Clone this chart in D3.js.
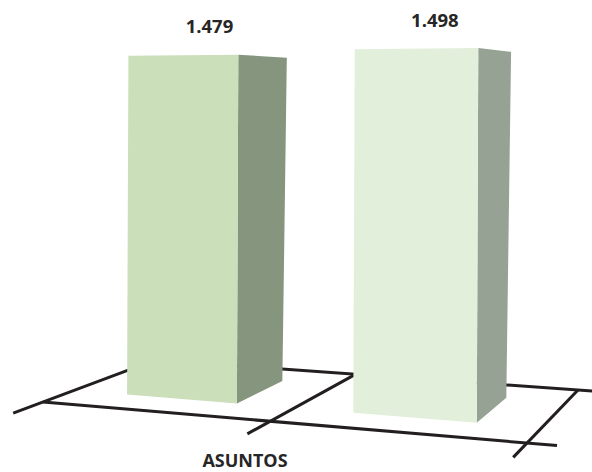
<!DOCTYPE html>
<html><head><meta charset="utf-8">
<script src="https://cdn.jsdelivr.net/npm/d3@7/dist/d3.min.js"></script>
<style>html,body{margin:0;padding:0;background:#fff;}svg{display:block;}</style>
</head><body>
<svg id="chart" width="592" height="472"></svg>
<script>
// ---- data ----
const categories = ["Serie 1", "Serie 2"];
const values = [1479, 1498];
const frontColors = ["#cadfba", "#e2efda"];
const sideColors = ["#86957d", "#96a294"];
const axisTitle = "ASUNTOS";

// ---- layout / perspective ----
const W = 592, H = 472;
const FL = [43, 402], FR = [527, 443], BR = [578, 390];
const G = -0.115, HP = 0.16;            // perspective terms of the floor
const c = FL[0], f = FL[1];
const a = FR[0] * (1 + G) - c, d = FR[1] * (1 + G) - f;
const b = BR[0] * (1 + G + HP) - a - c, e = BR[1] * (1 + G + HP) - d - f;
const depth = [0.25, 0.74];

const xBand = d3.scaleBand().domain(categories).range([0, 1]).paddingInner(0.5).paddingOuter(0.25);
const yScale = d3.scaleLinear().domain([0, 1600]).range([0, 376]);
const es = d3.formatLocale({decimal: ",", thousands: ".", grouping: [3], currency: ["", "€"]});
const fmt = es.format(",");

function lean(v) { return 0.004 + 0.02 * (v - 0.25); }
function proj(u, v, val) {
  const w = 1 + G * u + HP * v;
  const x = (a * u + b * v + c) / w, y = (d * u + e * v + f) / w;
  const hp = yScale(val || 0) / w;
  return [x + hp * lean(v), y - hp];
}

const svg = d3.select("#chart");
const line = d3.line();

// floor
const floor = svg.append("g").attr("stroke", "#231f20").attr("stroke-width", 3).attr("fill", "none");
const uExt = 1.0545, vExt = -0.22;
floor.append("path").attr("d", line([proj(0, 0), proj(uExt, 0)]));
floor.append("path").attr("d", line([proj(0, 1), proj(uExt, 1)]));
const ticks = d3.range(categories.length + 1).map(i => i / categories.length);
floor.selectAll("path.tick").data(ticks).join("path").attr("class", "tick")
  .attr("d", u => line([proj(u, vExt), proj(u, 1)]));

// bars
const bars = svg.append("g").selectAll("g").data(categories).join("g");
bars.each(function(cat, i) {
  const g = d3.select(this);
  const u0 = xBand(cat), u1 = u0 + xBand.bandwidth();
  const [v0, v1] = depth, val = values[i];
  const front = [proj(u0, v0, 0), proj(u1, v0, 0), proj(u1, v0, val), proj(u0, v0, val)];
  const side = [proj(u1, v0, 0), proj(u1, v1, 0), proj(u1, v1, val), proj(u1, v0, val)];
  g.append("path").attr("d", line(side) + "Z").attr("fill", sideColors[i]);
  g.append("path").attr("d", line(front) + "Z").attr("fill", frontColors[i]);
  const top = proj((u0 + u1) / 2, (v0 + v1) / 2, val);
  g.append("text").attr("x", top[0]).attr("y", top[1] - 23.5)
    .attr("text-anchor", "middle")
    .style("font-family", "'Open Sans', sans-serif").style("font-weight", "bold")
    .style("font-size", "18.5px").attr("fill", "#262626")
    .text(fmt(val));
});

svg.append("text").attr("x", 245).attr("y", 467).attr("text-anchor", "middle")
  .style("font-family", "'Open Sans', sans-serif").style("font-weight", "bold")
  .style("font-size", "18px").attr("fill", "#262626").text(axisTitle);
</script>
</body></html>
